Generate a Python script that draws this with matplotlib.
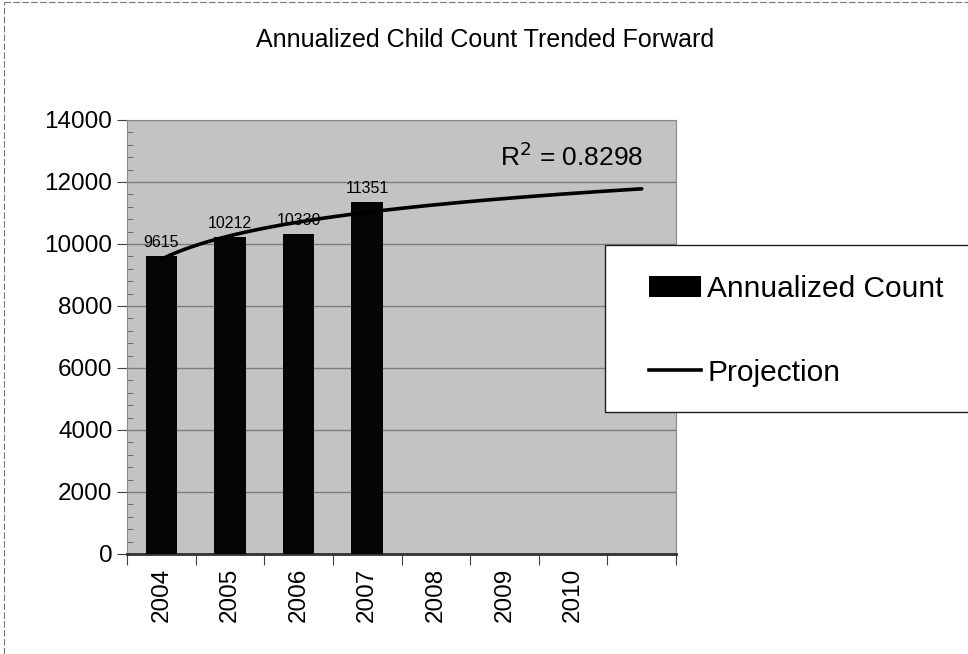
import numpy as np
import matplotlib.pyplot as plt
from matplotlib.patches import Rectangle
from matplotlib.lines import Line2D
from matplotlib.ticker import MultipleLocator

plt.rcParams['font.family'] = ['Liberation Sans', 'DejaVu Sans']

# data
years = ['2004', '2005', '2006', '2007', '2008', '2009', '2010', '']
counts = [9615, 10212, 10330, 11351]
r2_text = 'R$^2$ = 0.8298'

# log trendline (Excel style, x = 1..n)
xs = np.arange(1, len(counts) + 1)
a, b = np.polyfit(np.log(xs), counts, 1)
xt = np.linspace(1, len(years), 200)
yt = a * np.log(xt) + b

fig = plt.figure(figsize=(9.68, 6.54), dpi=100)
ax = fig.add_axes([127/968, 1 - 554/654, 549/968, 434/654])
ax.set_facecolor('#c3c3c3')

idx = np.arange(len(counts))
ax.bar(idx, counts, width=0.46, color='#050505', zorder=3)
for i, v in zip(idx, counts):
    ax.text(i, v + 200, str(v), ha='center', va='bottom', fontsize=11.5, zorder=5)

ax.plot(xt - 1, yt, color='black', lw=2.6, solid_capstyle='round', zorder=4)
ax.text(0.94, 0.915, r2_text, transform=ax.transAxes, ha='right', va='center', fontsize=19)

ax.set_xlim(-0.5, len(years) - 0.5)
ax.set_ylim(0, 14000)
ax.set_yticks(np.arange(0, 14001, 2000))
ax.yaxis.set_minor_locator(MultipleLocator(400))
ax.tick_params(axis='y', which='major', labelsize=17.5, length=7, direction='out', color='#404040')
ax.tick_params(axis='y', which='minor', length=4, direction='in', color='#606060')
ax.grid(axis='y', color='#7c7c7c', lw=1, zorder=1)
ax.set_axisbelow(True)

ax.set_xticks(np.arange(-0.5, len(years)), [''] * (len(years) + 1))
ax.set_xticks(np.arange(len(years)), years, minor=True, rotation=90)
ax.tick_params(axis='x', which='major', length=8, color='#404040')
ax.tick_params(axis='x', which='minor', length=0, labelsize=17.5, pad=10)

for s in ['top', 'right', 'left']:
    ax.spines[s].set_color('#8a8a8a')
ax.spines['bottom'].set_color('#303030')
ax.spines['bottom'].set_linewidth(2)

fig.text(485/968, 1 - 40/654, 'Annualized Child Count Trended Forward',
         ha='center', va='center', fontsize=18)

# legend box, clipped by the right edge
fig.patches.append(Rectangle((605/968, 1 - 412/654), 0.5, 167/654,
                             transform=fig.transFigure, facecolor='white',
                             edgecolor='#202020', lw=1, zorder=4))
handles = [Rectangle((0, 0), 1, 1, facecolor='black'),
           Line2D([], [], color='black', lw=2.6)]
fig.legend(handles, ['Annualized Count', 'Projection'], loc='center left',
           bbox_to_anchor=(622/968, 1 - 331/654), frameon=False, fontsize=21.5,
           handlelength=1.75, handleheight=0.7, handletextpad=0.2, labelspacing=1.85)

# thin outer frame of the chart
fig.add_artist(Line2D([0.004, 0.004], [0, 0.997], color='#777777', lw=0.8, ls=(0, (6, 2))))
fig.add_artist(Line2D([0.004, 1], [0.997, 0.997], color='#777777', lw=0.8, ls=(0, (6, 2))))

fig.savefig('out.png', dpi=100)
